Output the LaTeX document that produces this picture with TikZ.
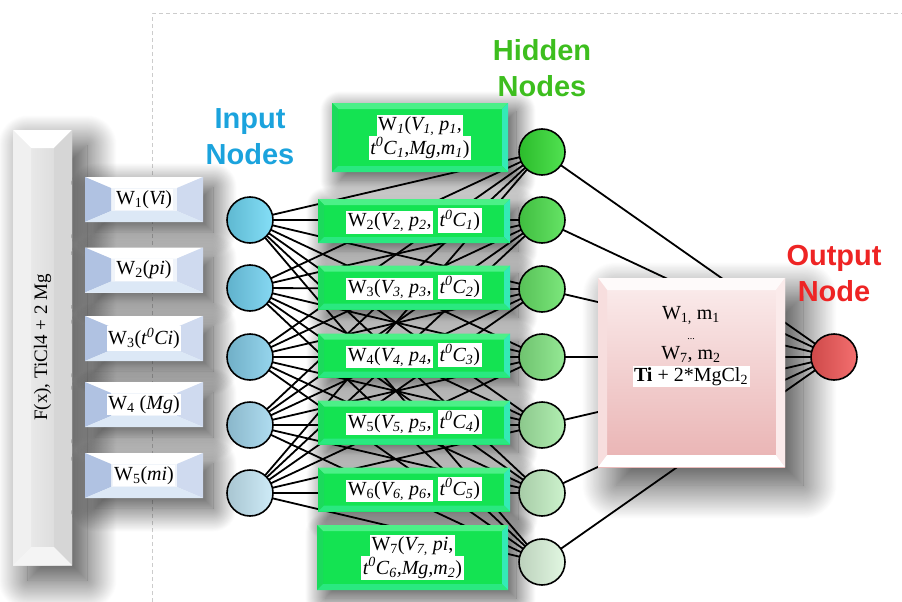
\documentclass[tikz,border=0pt]{standalone}
\usepackage{fontspec}
\setmainfont{Liberation Serif}
\newfontfamily\headfont{Liberation Sans}
\usetikzlibrary{shadows.blur}

% node colours
\definecolor{inA}{HTML}{6FD9F6}
\definecolor{inB}{HTML}{71D1F0}
\definecolor{inC}{HTML}{84CEEA}
\definecolor{inD}{HTML}{A2D7EE}
\definecolor{inE}{HTML}{C6E8F6}
\definecolor{hdA}{HTML}{33DD33}
\definecolor{hdB}{HTML}{4BDF4B}
\definecolor{hdC}{HTML}{66E366}
\definecolor{hdD}{HTML}{82E582}
\definecolor{hdE}{HTML}{A4EBA4}
\definecolor{hdF}{HTML}{C4F0C4}
\definecolor{hdG}{HTML}{DDF6DD}
\definecolor{outC}{HTML}{F25656}
% box colours
\definecolor{grBase}{HTML}{14E352}
\definecolor{grTop}{HTML}{4CF088}
\definecolor{grLeft}{HTML}{1BDA5C}
\definecolor{grRight}{HTML}{34EAB6}
\definecolor{grBot}{HTML}{2AE880}
\definecolor{wbBase}{HTML}{F0F4FA}
\definecolor{wbLeft}{HTML}{B0C2E2}
\definecolor{wbRight}{HTML}{CFDAEF}
\definecolor{wbBot}{HTML}{DCE8F6}
\definecolor{pkTop}{HTML}{FBEDED}
\definecolor{pkBot}{HTML}{E9B2B2}
\definecolor{pkLeft}{HTML}{F7DEDE}
\definecolor{pkRight}{HTML}{FBEBEB}
\definecolor{gyLeft}{HTML}{F0F0F0}
\definecolor{gyRight}{HTML}{D6D6D6}
\definecolor{gyBase}{HTML}{E4E4E4}
\definecolor{ttIn}{HTML}{1BA3DD}
\definecolor{ttHid}{HTML}{3DBE1E}
\definecolor{ttOut}{HTML}{EE2424}

% white highlight behind a piece of text
\newcommand\hl[1]{{\setlength\fboxsep{1.5pt}\colorbox{white}{#1}}}

% four bevel faces inside a rectangle: dx, dy, top, left, right, bottom
\newcommand\bevelfaces[6]{%
  \path (path picture bounding box.north west) coordinate (bvA)
        (path picture bounding box.north east) coordinate (bvB)
        (path picture bounding box.south east) coordinate (bvC)
        (path picture bounding box.south west) coordinate (bvD);
  \path ([xshift=#1,yshift=-#2]bvA) coordinate (bva)
        ([xshift=-#1,yshift=-#2]bvB) coordinate (bvb)
        ([xshift=-#1,yshift=#2]bvC) coordinate (bvc)
        ([xshift=#1,yshift=#2]bvD) coordinate (bvd);
  \fill[#3] (bvA) -- (bvB) -- (bvb) -- (bva) -- cycle;
  \fill[#4] (bvA) -- (bva) -- (bvd) -- (bvD) -- cycle;
  \fill[#5] (bvB) -- (bvC) -- (bvc) -- (bvb) -- cycle;
  \fill[#6] (bvD) -- (bvd) -- (bvc) -- (bvC) -- cycle;
}

\tikzset{
  softshadow/.style 2 args={blur shadow={shadow xshift=#1, shadow yshift=-#1,
      shadow blur radius=#2, shadow blur steps=40, shadow opacity=75}},
  wire/.style={line width=1.8pt, black},
  ball/.style={circle, draw=black, line width=1.6pt, minimum size=46pt,
      inner sep=0pt, left color=#1!85!black, right color=#1!85!white},
  title/.style={align=center, font=\headfont\bfseries\fontsize{29}{36}\selectfont},
  inbox/.style={rectangle, minimum width=118pt, minimum height=45pt,
      inner sep=0pt, fill=wbBase, softshadow={10pt}{24pt},
      path picture={\bevelfaces{26pt}{11pt}{white}{wbLeft}{wbRight}{wbBot}},
      font=\fontsize{20}{22}\selectfont},
  wbox/.style={rectangle, minimum width=192pt, minimum height=44pt,
      inner sep=0pt, fill=grBase, softshadow={8pt}{20pt}, align=center,
      path picture={\bevelfaces{6pt}{6pt}{grTop}{grLeft}{grRight}{grBot}},
      font=\fontsize{20}{22}\selectfont},
}

\begin{document}
\begin{tikzpicture}[x=1pt, y=-1pt]
\useasboundingbox (0,0) rectangle (902,602);

% dashed frame
\draw[gray!40, line width=1pt, dash pattern=on 4pt off 3pt]
  (152,602) -- (152,14) -- (902,14);

% input column
\node[rectangle, minimum width=59pt, minimum height=435pt, inner sep=0pt,
      left color=gyLeft, right color=gyRight, softshadow={15pt}{30pt},
      path picture={\bevelfaces{18pt}{18pt}{white}{gyLeft}{gyRight}{white!60!gyBase}}]
  (bar) at (42.5,347.5) {};
\node[rotate=90, font=\fontsize{19}{21}\selectfont] (bartext) at (bar.center)
  {F(x), TiCl4 + 2 Mg};

\node[inbox] (w1) at (144,199.5) {\hl{W\textsubscript{1}(\textit{Vi})}};
\node[inbox] (w2) at (144,270)   {\hl{W\textsubscript{2}(\textit{pi})}};
\node[inbox] (w3) at (144,338.5) {\hl{W\textsubscript{3}(\textit{t\textsuperscript{0}Ci})}};
\node[inbox] (w4) at (144,404.5) {\hl{W\textsubscript{4} (\textit{Mg})}};
\node[inbox] (w5) at (144,475.5) {\hl{W\textsubscript{5}(\textit{mi})}};

% neuron centres
\foreach \k/\y in {1/220, 2/288, 3/357, 4/425, 5/493}
  \coordinate (i\k) at (250,\y);
\foreach \k/\y in {1/152, 2/220, 3/289, 4/357, 5/425, 6/493, 7/562}
  \coordinate (h\k) at (542,\y);
\coordinate (out) at (834,357);

% connections
\foreach \a in {1,...,5}
  \foreach \b in {1,...,7}
    \draw[wire] (i\a) -- (h\b);
\foreach \b in {1,...,7}
  \draw[wire] (h\b) -- (out);

% weight boxes
\node[wbox, minimum width=176pt, minimum height=69pt] (g1) at (420,137.5)
  {\hl{W\textsubscript{\textit{1}}(\textit{V\textsubscript{1,} p\textsubscript{1},}}\\[-2pt]
   \hl{\textit{t\textsuperscript{0}C\textsubscript{1},Mg,m\textsubscript{1}})}};
\node[wbox] (g2) at (414,221)
  {\hl{W\textsubscript{2}(\textit{V\textsubscript{2,} p\textsubscript{2},}} \hl{\textit{t\textsuperscript{0}C\textsubscript{1}})}};
\node[wbox] (g3) at (414,287.5)
  {\hl{W\textsubscript{3}(\textit{V\textsubscript{3,} p\textsubscript{3},}} \hl{\textit{t\textsuperscript{0}C\textsubscript{2}})}};
\node[wbox] (g4) at (414,355.5)
  {\hl{W\textsubscript{4}(\textit{V\textsubscript{4,} p\textsubscript{4},}} \hl{\textit{t\textsuperscript{0}C\textsubscript{3}})}};
\node[wbox] (g5) at (414,422.5)
  {\hl{W\textsubscript{5}(\textit{V\textsubscript{5,} p\textsubscript{5},}} \hl{\textit{t\textsuperscript{0}C\textsubscript{4}})}};
\node[wbox] (g6) at (414,489.5)
  {\hl{W\textsubscript{6}(\textit{V\textsubscript{6,} p\textsubscript{6},}} \hl{\textit{t\textsuperscript{0}C\textsubscript{5}})}};
\node[wbox, minimum width=191pt, minimum height=65pt] (g7) at (412.5,557.5)
  {\hl{W\textsubscript{7}(\textit{V\textsubscript{7,} pi},}\\[-2pt]
   \hl{\textit{t\textsuperscript{0}C\textsubscript{6},Mg,m\textsubscript{2}})}};

% output combination box
\node[rectangle, minimum width=187pt, minimum height=189pt, inner sep=0pt,
      top color=pkTop, bottom color=pkBot, softshadow={18pt}{34pt},
      path picture={\bevelfaces{9pt}{12pt}{white!70!pkTop}{pkLeft}{pkRight}{white}}]
  (sum) at (691.5,372.5) {};
\node[align=center, font=\fontsize{20}{20}\selectfont] (sumtext) at (691,347)
  {W\textsubscript{1,} m\textsubscript{1}\\
   {\fontsize{10}{10}\selectfont ...}\\
   W\textsubscript{7}, m\textsubscript{2}\\[2pt]
   \hl{\textbf{Ti} + 2*MgCl\textsubscript{2}}};

% neurons
\foreach \k/\c in {1/inA, 2/inB, 3/inC, 4/inD, 5/inE}
  \node[ball=\c] (ni\k) at (i\k) {};
\foreach \k/\c in {1/hdA, 2/hdB, 3/hdC, 4/hdD, 5/hdE, 6/hdF, 7/hdG}
  \node[ball=\c] (nh\k) at (h\k) {};
\node[ball=outC] (nout) at (out) {};

% layer titles
\node[title, text=ttIn]  (tin)  at (250,136.5) {Input\\Nodes};
\node[title, text=ttHid] (thid) at (542,68)    {Hidden\\Nodes};
\node[title, text=ttOut] (tout) at (834,274)   {Output\\Node};
\end{tikzpicture}
\end{document}
